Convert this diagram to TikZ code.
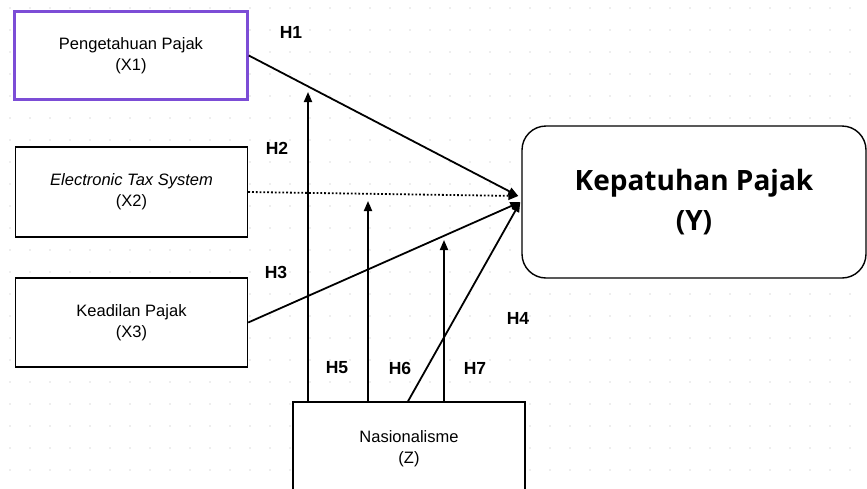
\documentclass[tikz,border=0pt]{standalone}
\usepackage{fontspec}
\setmainfont{Liberation Sans}
\newfontfamily\yfont{Open Sans}
\usetikzlibrary{arrows.meta}
\definecolor{boxpurple}{RGB}{124,77,214}
\definecolor{dotgray}{RGB}{222,222,222}
\begin{document}
\begin{tikzpicture}[x=1pt,y=-1pt,
  varbox/.style={draw=black,line width=1.4pt,fill=white,rectangle,align=center,
    font=\fontsize{16.5}{21}\selectfont,inner sep=0pt},
  hyp/.style={font=\fontsize{17.5}{20}\selectfont\bfseries},
  link/.style={line width=1.8pt,-{Triangle[length=10pt,width=8pt]}},
]
\useasboundingbox (0,0) rectangle (867,488);
\fill[white] (0,0) rectangle (867,488);
% dotted background
\foreach \i in {0,...,43}{
  \foreach \j in {0,...,22}{
    \fill[dotgray] (10+\i*20, 8+\j*22) circle (0.9pt);
  }
}
% nodes
\node[varbox,draw=boxpurple,line width=2.6pt,minimum width=233pt,minimum height=88pt] (x1) at (131,55.5) {Pengetahuan Pajak\\(X1)};
\node[varbox,minimum width=232pt,minimum height=90pt] (x2) at (131.5,192) {\textit{Electronic Tax System}\\(X2)};
\node[varbox,minimum width=232pt,minimum height=89pt] (x3) at (131.5,322.5) {Keadilan Pajak\\(X3)};
\node[varbox,rounded corners=24pt,minimum width=344pt,minimum height=152pt,
  font=\yfont\bfseries\fontsize{28}{40}\selectfont] (y) at (694,202) {Kepatuhan Pajak\\(Y)};
\node[varbox,minimum width=232pt,minimum height=110pt] (z) at (409,457) {};
\node[font=\fontsize{16.5}{21}\selectfont,align=center] (zt) at (409,449) {Nasionalisme\\(Z)};
% free ends of arrows
\coordinate (h5t) at (308,92);
\coordinate (h6t) at (368,201);
\coordinate (h7t) at (444,240);
\coordinate (conv) at ([xshift=-1pt]y.west);
\coordinate (conv2) at ([xshift=-3pt,yshift=6pt]y.west);
% connectors
\draw[link] (x1.east) -- (conv2);
\draw[line width=1.8pt,dotted,-{Triangle[length=10pt,width=8pt]}] (x2.east) -- (conv2);
\draw[link] (x3.east) -- (conv);
\draw[link] (z.north -| h5t) -- (h5t);
\draw[link] (z.north -| h6t) -- (h6t);
\draw[link] (z.north -| h7t) -- (h7t);
\draw[link] ([xshift=-1pt]z.north) -- (conv);
% labels
\node[hyp] (l1) at (291,32) {H1};
\node[hyp] (l2) at (277,148) {H2};
\node[hyp] (l3) at (276,272) {H3};
\node[hyp] (l4) at (518,318) {H4};
\node[hyp] (l5) at (337,368) {H5};
\node[hyp] (l6) at (400,368) {H6};
\node[hyp] (l7) at (475,368) {H7};
\end{tikzpicture}
\end{document}
